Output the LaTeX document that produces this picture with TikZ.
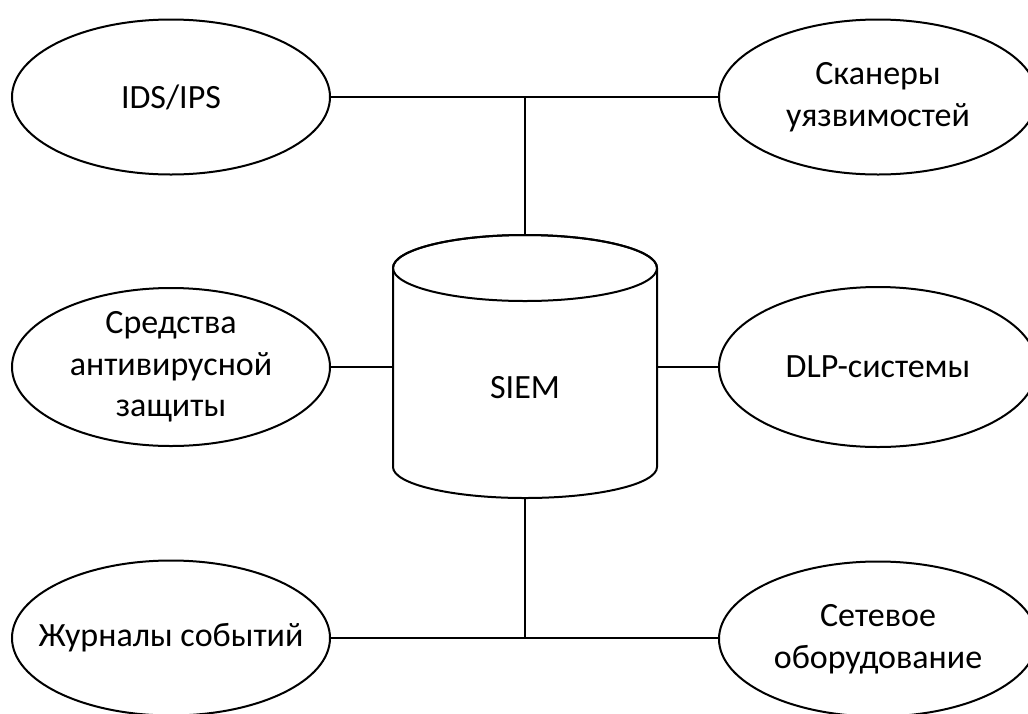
\documentclass[tikz,border=0pt]{standalone}
\usepackage{fontspec}
\setmainfont{Carlito}
\usetikzlibrary{shapes.geometric}
\begin{document}
\begin{tikzpicture}[x=1pt, y=-1pt,
  every node/.style={font=\fontsize{34}{41.7}\selectfont, text=black},
  every label/.style={align=center, font=\fontsize{34}{41.7}\selectfont},
  src/.style={ellipse, draw, line width=2pt, fill=white, inner sep=0pt,
    minimum width=318pt, minimum height=155pt},
  link/.style={draw, line width=2pt}]
  \clip (0,0) rectangle (1028,713);
  \fill[white] (0,0) rectangle (1028,713);

  % sources round the store
  \node[src, label=center:{IDS/IPS}] (ids) at (171,97) {};
  \node[src, label=center:{Сканеры\\уязвимостей}] (scan) at (878,97) {};
  \node[src, minimum height=158pt, label=center:{Средства\\антивирусной\\защиты}] (av) at (171,367) {};
  \node[src, minimum height=160pt, label=center:{DLP-системы}] (dlp) at (878,367) {};
  \node[src, label=center:{Журналы событий}] (logs) at (171,638) {};
  \node[src, label=center:{Сетевое\\оборудование}] (net) at (878,639) {};

  % central store drawn as a cylinder
  \draw[line width=2pt, fill=white]
    (393,268) -- (393,467) arc[start angle=180, end angle=0, x radius=132, y radius=31]
    -- (657,268) arc[start angle=0, end angle=-180, x radius=132, y radius=33] -- cycle;
  \draw[line width=2pt] (525,268) ellipse[x radius=132, y radius=33];
  \node (siem) at (525,388) {SIEM};
  \coordinate (stop) at (525,235);
  \coordinate (sbot) at (525,498);
  \coordinate (sleft) at (393,367);
  \coordinate (sright) at (657,367);

  % links
  \path[link] (ids.east) -- (scan.west);
  \path[link] (stop) -- (stop |- ids.east);
  \path[link] (av.east) -- (sleft);
  \path[link] (sright) -- (dlp.west);
  \path[link] (logs.east) -- (logs.east -| net.west);
  \path[link] (sbot) -- (sbot |- logs.east);
\end{tikzpicture}
\end{document}
